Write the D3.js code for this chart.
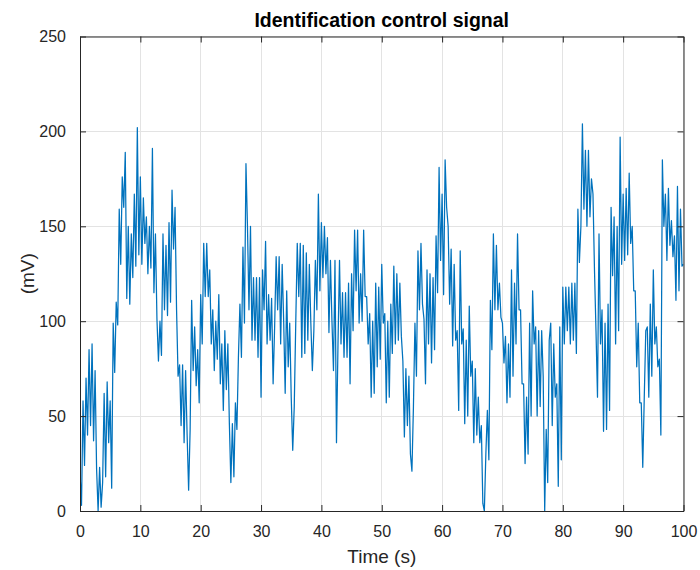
<!DOCTYPE html>
<html>
<head>
<meta charset="utf-8">
<script src="https://cdn.jsdelivr.net/npm/d3@7"></script>
<style>
  html, body { margin: 0; padding: 0; background: #ffffff; }
  svg { display: block; font-family: "Liberation Sans", Arial, Helvetica, sans-serif; }
</style>
</head>
<body>
<svg id="chart" width="700" height="570"></svg>
<script>
// ---- data ----
const chartTitle = "Identification control signal";
const xLabel = "Time (s)";
const yLabel = "(mV)";
const xTicks = [0, 10, 20, 30, 40, 50, 60, 70, 80, 90, 100];
const yTicks = [0, 50, 100, 150, 200, 250];
const sampleStep = 0.25; // seconds between samples
// signal in mV, 4 samples per second (t = 0, 0.25, 0.5, 0.75, 1, ...)
const signalMV = [
  20, 3, 58, 24,      70, 40, 85, 45,      88, 37, 74, 22,      0, 23, 2, 15,
  62, 18, 68, 36,     58, 12, 99, 73,      110, 98, 159, 130,   176, 160, 189, 112,
  150, 109, 146, 123, 167, 129, 202, 135,  176, 130, 165, 141,  155, 125, 150, 128,
  191, 115, 146, 101, 79, 100, 82, 146,    106, 140, 103, 152,  110, 169, 138, 160,
  106, 71, 77, 45,    77, 36, 74, 40,      11, 43, 111, 74,     97, 66, 85, 57,
  114, 88, 141, 113,  141, 113, 127, 88,   106, 74, 100, 80,    114, 67, 88, 53,
  95, 64, 88, 46,     15, 46, 18, 57,      43, 81, 109, 81,     139, 99, 183, 150,
  106, 150, 90, 123,  90, 123, 81, 123,    60, 127, 106, 142,   88, 114, 90, 112,
  67, 97, 134, 106,   134, 88, 130, 100,   62, 116, 76, 99,     60, 32, 55, 99,
  141, 113, 141, 81,  140, 83, 136, 90,    130, 99, 74, 95,     132, 106, 167, 116,
  152, 123, 150, 125, 144, 94, 132, 100,   74, 132, 36, 88,     132, 88, 115, 81,
  115, 81, 120, 67,   125, 95, 148, 116,   148, 99, 125, 100,   148, 113, 113, 88,
  104, 60, 100, 62,   120, 76, 118, 80,    130, 99, 104, 57,    100, 60, 109, 83,
  129, 88, 125, 90,   120, 92, 79, 39,     75, 45, 71, 30,      21, 55, 99, 71,
  137, 106, 141, 109, 101, 67, 127, 88,    125, 78, 123, 85,    145, 115, 181, 132,
  167, 114, 185, 160, 150, 109, 138, 87,   130, 90, 95, 53,     137, 88, 96, 46,
  90, 50, 108, 71,    79, 36, 75, 40,      60, 36, 45, 4,       0, 30, 53, 27,
  111, 85, 146, 106,  140, 106, 120, 102,  99, 78, 92, 57,      88, 60, 127, 71,
  120, 88, 146, 106,  106, 67, 67, 25,     60, 30, 99, 50,      116, 88, 97, 50,
  95, 55, 95, 71,     0, 43, 15, 90,       99, 45, 88, 60,      67, 13, 97, 27,
  118, 88, 118, 95,   118, 88, 120, 90,    120, 83, 159, 131,   150, 204, 159, 190,
  150, 190, 155, 175, 167, 127, 95, 60,    146, 88, 106, 42,    99, 43, 109, 53,
  160, 124, 155, 88,  150, 95, 197, 130,   167, 132, 170, 135,  178, 141, 150, 116,
  116, 76, 99, 57,    57, 23, 60, 95,      97, 60, 109, 71,     127, 88, 97, 76,
  80, 40, 185, 150,   167, 132, 170, 140,  153, 134, 145, 111,  171, 116, 159, 129,
  130
];

// ---- layout ----
const margin = { left: 80, right: 700 - 683.5, top: 36.5, bottom: 570 - 511 };
const W = 700, H = 570;
const svg = d3.select("#chart");
const x = d3.scaleLinear().domain([0, 100]).range([margin.left, W - margin.right]);
const y = d3.scaleLinear().domain([0, 250]).range([H - margin.bottom, margin.top]);

const axisColor = "#262626";

// grid
const grid = svg.append("g").attr("class", "grid");
grid.selectAll("line.gx").data(xTicks).join("line")
  .attr("x1", d => x(d)).attr("x2", d => x(d))
  .attr("y1", y(0)).attr("y2", y(250))
  .attr("stroke", "#e3e3e3").attr("stroke-width", 1).attr("shape-rendering", "crispEdges");
grid.selectAll("line.gy").data(yTicks).join("line")
  .attr("x1", x(0)).attr("x2", x(100))
  .attr("y1", d => y(d)).attr("y2", d => y(d))
  .attr("stroke", "#e3e3e3").attr("stroke-width", 1).attr("shape-rendering", "crispEdges");

// signal
const pts = signalMV.map((v, i) => [i * sampleStep, v]);
svg.append("defs").append("clipPath").attr("id", "clip")
  .append("rect").attr("x", x(0)).attr("y", y(250)).attr("width", x(100) - x(0)).attr("height", y(0) - y(250));
svg.append("path")
  .datum(pts)
  .attr("clip-path", "url(#clip)")
  .attr("fill", "none")
  .attr("stroke", "#0072BD")
  .attr("stroke-width", 1.25)
  .attr("stroke-linejoin", "round")
  .attr("d", d3.line().x(d => x(d[0])).y(d => y(d[1])));

// axes (ticks inward, MATLAB style)
const tickLen = 6;
const fontSize = 16;
const bottomAxis = d3.axisBottom(x).tickValues(xTicks).tickSizeInner(-tickLen).tickSizeOuter(0).tickPadding(tickLen + 9);
const leftAxis = d3.axisLeft(y).tickValues(yTicks).tickSizeInner(-tickLen).tickSizeOuter(0).tickPadding(tickLen + 8);
const topAxis = d3.axisTop(x).tickValues(xTicks).tickSizeInner(-tickLen).tickSizeOuter(0).tickFormat("");
const rightAxis = d3.axisRight(y).tickValues(yTicks).tickSizeInner(-tickLen).tickSizeOuter(0).tickFormat("");

function styleAxis(g) {
  g.selectAll("path").attr("stroke", axisColor).attr("stroke-width", 1);
  g.selectAll("line").attr("stroke", axisColor).attr("stroke-width", 1);
  g.selectAll("text").attr("fill", axisColor).style("font-size", fontSize + "px")
    .style("font-family", "'Liberation Sans', Arial, sans-serif");
}
svg.append("g").attr("transform", `translate(0,${y(0)})`).call(bottomAxis).call(styleAxis);
svg.append("g").attr("transform", `translate(${x(0)},0)`).call(leftAxis).call(styleAxis);
svg.append("g").attr("transform", `translate(0,${y(250)})`).call(topAxis).call(styleAxis);
svg.append("g").attr("transform", `translate(${x(100)},0)`).call(rightAxis).call(styleAxis);

// title & labels
svg.append("text")
  .attr("x", (x(0) + x(100)) / 2).attr("y", 27)
  .attr("text-anchor", "middle")
  .attr("fill", "#000")
  .style("font-size", "19.5px").style("font-weight", "bold")
  .text(chartTitle);
svg.append("text")
  .attr("x", (x(0) + x(100)) / 2).attr("y", 563)
  .attr("text-anchor", "middle")
  .attr("fill", axisColor)
  .style("font-size", "19px")
  .text(xLabel);
svg.append("text")
  .attr("transform", `translate(34,${(y(0) + y(250)) / 2}) rotate(-90)`)
  .attr("text-anchor", "middle")
  .attr("fill", axisColor)
  .style("font-size", "19px")
  .text(yLabel);
</script>
</body>
</html>
